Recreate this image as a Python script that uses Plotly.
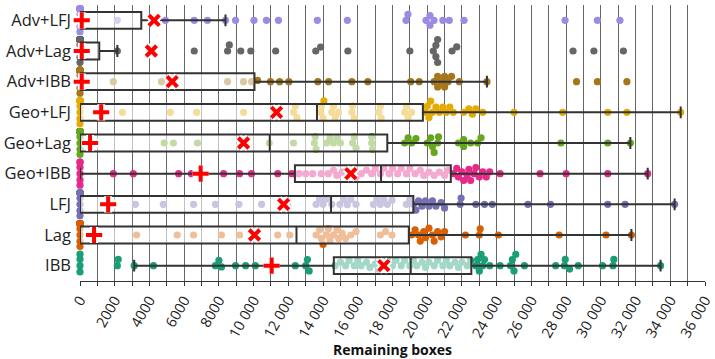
import numpy as np
import plotly.graph_objects as go

# Categories listed bottom -> top
categories = ["IBB", "Lag", "LFJ", "Geo+IBB", "Geo+Lag", "Geo+LFJ", "Adv+IBB", "Adv+Lag", "Adv+LFJ"]
colors = ["#1b9e77", "#d95f02", "#7570b3", "#e7298a", "#66a61e", "#e6ab02", "#a6761d", "#666666", "#9d8ae2"]

# x-axis ticks
tick_vals = [0, 2000, 4000, 6000, 8000, 10000, 12000, 14000, 16000, 18000,
             20000, 22000, 24000, 26000, 28000, 30000, 32000, 34000, 36000]
tick_labels = ["0", "2000", "4000", "6000", "8000", "10 000", "12 000", "14 000", "16 000", "18 000",
               "20 000", "22 000", "24 000", "26 000", "28 000", "30 000", "32 000", "34 000", "36 000"]

# number of runs that ended with 0 remaining boxes
zero_counts = [4, 30, 30, 6, 30, 30, 40, 45, 40]

# non-zero observations (remaining boxes)
pts_IBB = [2150, 2200, 3120, 4230, 7800, 8000, 8150, 8960, 9540, 10100, 12400, 13000, 13100, 13200,
           14700, 15000, 15300, 15500, 15800, 16000, 16200, 16500, 16700, 17000, 17200, 17500, 17700,
           18000, 18200, 18500, 18700, 19000, 19200, 19400, 19700, 19900, 20100, 20400, 20600, 20900,
           21100, 21300, 21600, 21800, 22000, 22300, 22500, 22800, 22900, 23000, 23100, 23200, 23300,
           23600, 24200, 24800, 24900, 25000, 25100, 25600, 27400, 27900, 27950, 28200, 28700, 30100,
           30700, 30750, 33440]
pts_Lag = [1100, 3260, 5600, 6540, 8150, 9190, 11390, 12080, 13600, 13800, 13900, 14000, 14200, 14300,
           14400, 14600, 14800, 14900, 15100, 15300, 15600, 15900, 17300, 17600, 17970, 19100, 19300,
           19500, 19600, 19800, 19900, 20100, 20300, 20400, 20600, 20800, 21000, 22200, 23000, 23050,
           24100, 27600, 30300, 31760]
pts_LFJ = [3190, 4800, 6540, 7800, 9150, 10460, 11960, 13600, 13800, 14000, 14200, 14500, 14970, 15200,
           15400, 15600, 15900, 16900, 17100, 17300, 17500, 17700, 17970, 18800, 19000, 19200, 19350,
           19500, 19700, 19900, 20100, 20300, 20500, 20800, 21000, 21900, 21950, 22800, 23300, 23750,
           25800, 27100, 30400, 31400, 34250]
pts_GeoIBB = [1920, 3070, 5680, 6420, 8270, 9190, 9880, 11390, 12200, 12600, 13000, 13400, 13900, 14300,
              14600, 14800, 15100, 15400, 15700, 15900, 16200, 16500, 16800, 17000, 17300, 17500, 17800,
              18000, 18300, 18500, 18800, 19000, 19300, 19600, 19800, 20100, 20400, 20700, 21000, 21200,
              21500, 21700, 21800, 22000, 22100, 22300, 22400, 22500, 22700, 22800, 23000, 23200, 23400,
              23600, 24200, 26500, 28000, 30400, 32700]
pts_GeoLag = [4850, 5380, 6770, 10900, 12300, 13500, 13550, 13600, 14200, 14400, 14600, 14800, 15000,
              15700, 15800, 15900, 16800, 16800, 16850, 18700, 18900, 19100, 19350, 20000, 20200, 20300,
              20400, 20600, 20650, 21800, 22100, 22100, 22500, 22900, 23100, 27700, 30400, 31700]
pts_GeoLFJ = [2450, 5200, 6720, 9420, 11200, 12300, 12400, 12500, 13860, 13900, 14000, 14050, 14500,
              14600, 14700, 14900, 15660, 15700, 15800, 17200, 17300, 17350, 18700, 18800, 18900, 19100,
              19900, 20000, 20100, 20200, 20300, 20500, 20700, 20900, 21100, 21300, 21500, 22100, 22400,
              22600, 22800, 23200, 25000, 27800, 30400, 31500, 34600]
pts_AdvIBB = [1920, 4690, 5270, 8500, 9420, 9880, 10230, 10970, 11500, 12030, 13700, 14320, 15660, 16580,
              19050, 19540, 20400, 20600, 20600, 20800, 21000, 21000, 21200, 21400, 21850, 23440, 28600,
              29800, 31500]
pts_AdvLag = [2150, 6580, 8500, 8600, 9260, 9840, 11270, 13580, 13860, 15430, 19000, 20350, 20500, 20500,
              20600, 20600, 21430, 21700, 28400, 29600, 31300]
pts_AdvLFJ = [2150, 4920, 6580, 7340, 8380, 8960, 10020, 10740, 11430, 13670, 15400, 18780, 18890, 19930,
              20160, 20160, 20390, 20900, 21270, 22120, 27940, 29800, 31100]
points = [pts_IBB, pts_Lag, pts_LFJ, pts_GeoIBB, pts_GeoLag, pts_GeoLFJ, pts_AdvIBB, pts_AdvLag, pts_AdvLFJ]

# box statistics
q1 = [14620, 0, 0, 12380, 0, 0, 0, 0, 0]
median = [19050, 12470, 14460, 17340, 10930, 13650, 0, 0, 0]
q3 = [22540, 18940, 19200, 21360, 17700, 19750, 10050, 1110, 3530]
lowerfence = [3120, 0, 0, 0, 0, 0, 0, 0, 0]
upperfence = [33440, 31760, 34250, 32700, 31700, 34600, 23440, 2150, 8380]

# red markers
plus_vals = [11040, 810, 1620, 6950, 580, 1220, 100, 100, 100]
x_vals = [17500, 10050, 11730, 15600, 9420, 11320, 5310, 4110, 4270]

W, H = 715, 359
M = dict(l=80, r=0, t=5, b=78)
XMAX = 36000
px_per_val = (W - M["l"] - M["r"]) / XMAX
px_per_cat = (H - M["t"] - M["b"]) / 9.0


def swarm(vals, diam=6.3, max_off=11.5):
    vals = np.asarray(vals, dtype=float)
    order = np.argsort(vals, kind="stable")
    px, py = [], []
    offs = np.zeros(len(vals))
    for i in order:
        x = vals[i] * px_per_val
        neigh = [(a, b) for a, b in zip(px, py) if abs(a - x) < diam]
        cands = [0.0]
        for a, b in neigh:
            d = np.sqrt(max(diam ** 2 - (a - x) ** 2, 0))
            cands += [b + d, b - d]
        cands.sort(key=lambda c: (round(abs(c), 6), -c))
        chosen = None
        for c in cands:
            if all((a - x) ** 2 + (b - c) ** 2 >= diam ** 2 - 1e-6 for a, b in neigh):
                chosen = c
                break
        if chosen is None:
            chosen = max_off
        if abs(chosen) > max_off:
            chosen = np.sign(chosen) * max_off
        px.append(x)
        py.append(chosen)
        offs[i] = chosen
    return offs


fig = go.Figure()

for k, cat in enumerate(categories):
    vals = [0] * zero_counts[k] + list(points[k])
    offs = swarm(vals)
    fig.add_trace(go.Scatter(
        x=vals, y=k + offs / px_per_cat, mode="markers", cliponaxis=False,
        marker=dict(size=7.2, color=colors[k], line=dict(width=0)),
        showlegend=False, hoverinfo="skip"))

fig.add_trace(go.Box(
    orientation="h", y=list(range(9)), q1=q1, median=median, q3=q3,
    lowerfence=lowerfence, upperfence=upperfence, width=0.55, whiskerwidth=0.7,
    fillcolor="rgba(255,255,255,0.6)", line=dict(color="#333333", width=2),
    boxpoints=False, showlegend=False, yaxis="y2", hoverinfo="skip"))

ypos = list(range(9))
fig.add_trace(go.Scatter(x=plus_vals, y=ypos, mode="markers", yaxis="y3", showlegend=False, cliponaxis=False,
                         marker=dict(symbol="cross-thin", size=11.5, line=dict(width=8, color="white"))))
fig.add_trace(go.Scatter(x=x_vals, y=ypos, mode="markers", yaxis="y3", showlegend=False, cliponaxis=False,
                         marker=dict(symbol="x-thin", size=10.5, line=dict(width=8, color="white"))))
fig.add_trace(go.Scatter(x=plus_vals, y=ypos, mode="markers", yaxis="y3", showlegend=False, cliponaxis=False,
                         marker=dict(symbol="cross-thin", size=11.5, line=dict(width=4, color="#ff0000"))))
fig.add_trace(go.Scatter(x=x_vals, y=ypos, mode="markers", yaxis="y3", showlegend=False, cliponaxis=False,
                         marker=dict(symbol="x-thin", size=10.5, line=dict(width=4, color="#ff0000"))))

font_family = "Open Sans, Noto Sans, sans-serif"
fig.update_layout(
    width=W, height=H, margin=M,
    paper_bgcolor="white", plot_bgcolor="white",
    font=dict(family=font_family, color="#222222"),
    xaxis=dict(
        range=[0, XMAX], tickmode="array", tickvals=tick_vals, ticktext=tick_labels, tickangle=-60,
        tickfont=dict(size=14.5, color="#222222"), ticklabeloverflow="allow",
        showgrid=True, gridcolor="#666666", gridwidth=1,
        ticks="outside", ticklen=4, tickcolor="#333333",
        minor=dict(dtick=1000, tick0=0, showgrid=True, gridcolor="#666666", gridwidth=1,
                   ticks="outside", ticklen=4, tickcolor="#333333"),
        showline=True, linecolor="#333333", linewidth=1, zeroline=False,
    ),
    yaxis=dict(range=[-0.5, 8.5], tickvals=ypos, ticktext=categories, showgrid=False,
               zeroline=False, ticks="", tickfont=dict(size=16.5, color="#222222"),
               ticklabelstandoff=8),
    yaxis2=dict(range=[-0.5, 8.5], overlaying="y", visible=False, showgrid=False, zeroline=False),
    yaxis3=dict(range=[-0.5, 8.5], overlaying="y", visible=False, showgrid=False, zeroline=False),
    annotations=[dict(text="<b>Remaining boxes</b>", xref="paper", yref="paper", x=0.5, y=0,
                      yshift=-68, xanchor="center", yanchor="middle", showarrow=False,
                      font=dict(size=14, color="#111111"))],
)

fig.write_html("out.html", config={"displayModeBar": False},
               post_script="document.body.style.margin='0px';")
